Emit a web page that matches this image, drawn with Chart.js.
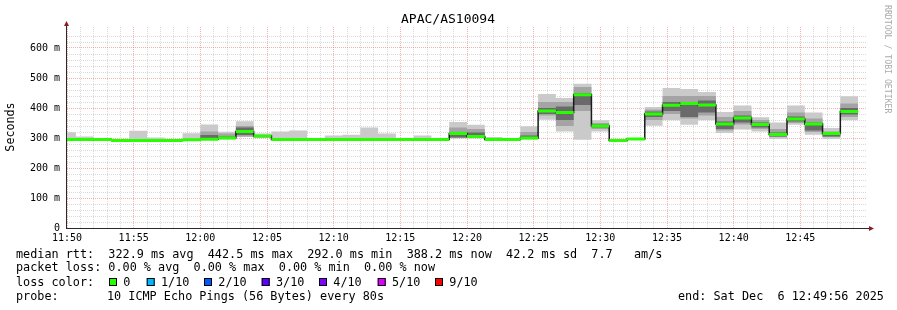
<!DOCTYPE html>
<html>
<head>
<meta charset="utf-8">
<title>APAC/AS10094</title>
<script src="https://cdn.jsdelivr.net/npm/chart.js@4.4.1/dist/chart.umd.min.js"></script>
<style>
  html, body { margin: 0; padding: 0; background: #fff; }
  #wrap { width: 897px; height: 310px; position: relative; }
</style>
</head>
<body>
<div id="wrap"><canvas id="smoke" width="897" height="310"></canvas></div>
<script>
/* SmokePing style latency graph: smoke bands + median, one round of 10 pings every 80s */

// start of each probe round, last entry is where the last round ends
const stepTimes = [
  '11:50:00','11:50:40','11:52:00','11:53:20','11:54:40','11:56:00','11:57:20','11:58:40','12:00:00','12:01:20',
  '12:02:40','12:04:00','12:05:20','12:06:40','12:08:00','12:09:20','12:10:40','12:12:00','12:13:20','12:14:40',
  '12:16:00','12:17:20','12:18:40','12:20:00','12:21:20','12:22:40','12:24:00','12:25:20','12:26:40','12:28:00',
  '12:29:20','12:30:40','12:32:00','12:33:20','12:34:40','12:36:00','12:37:20','12:38:40','12:40:00','12:41:20',
  '12:42:40','12:44:00','12:45:20','12:46:40','12:48:00','12:49:20'
];

// median rtt per round (ms)
const median = [
  295,295,295,292,292,292,292,294,296,300,
  322,307,295,295,295,295,295,295,295,295,
  295,295,315,305,295,295,300,390,385,444,
  340,292,297,380,409,415,410,347,367,345,
  312,363,347,315,388
];
// outer smoke (fastest / slowest ping)
const smokeLo = [
  293,293,293,291,291,291,291,292,294,296,
  303,300,293,293,293,293,293,293,293,293,
  293,293,298,298,293,293,295,361,322,294,
  322,291,295,341,359,344,359,317,328,322,
  297,344,311,297,359
];
const smokeHi = [
  319,305,296,293,324,302,293,316,345,321,
  356,315,322,325,298,308,311,335,315,297,
  308,298,353,344,303,297,339,447,433,481,
  359,293,300,403,467,463,453,387,408,369,
  352,408,385,333,439
];
// middle smoke
const midLo = [
  294,294,294,291,291,291,291,293,298,300,
  305,302,294,294,294,294,294,294,294,294,
  294,294,300,300,294,294,297,375,340,390,
  330,291,296,360,380,365,375,325,345,330,
  303,350,320,303,370
];
const midHi = [
  300,297,296,293,296,294,293,297,322,315,
  340,310,298,298,296,296,296,298,297,296,
  296,296,335,330,297,296,320,420,420,470,
  350,293,298,395,440,440,440,370,390,360,
  330,385,365,322,415
];
// dense core around the median
const coreLo = [
  294,294,294,291,291,291,291,293,298,298,
  310,304,294,294,294,294,294,294,294,294,
  294,294,302,300,294,294,297,380,360,410,
  335,291,296,370,390,370,385,330,352,335,
  305,355,325,305,378
];
const coreHi = [
  297,296,296,293,293,293,293,295,310,305,
  335,308,296,296,296,296,296,296,296,296,
  296,296,320,318,296,296,308,400,405,450,
  345,293,298,388,420,410,425,355,375,352,
  318,372,352,318,400
];

const xLabels = ['11:50','11:55','12:00','12:05','12:10','12:15','12:20','12:25','12:30','12:35','12:40','12:45'];
const yLabels = ['0','100 m','200 m','300 m','400 m','500 m','600 m'];

const lossLabels = ['0','1/10','2/10','3/10','4/10','5/10','9/10'];
const lossColors = ['#26ff00','#00b8ff','#0059ff','#5e00ff','#7e00ff','#dd00ff','#ff0000'];

const MONO = '"DejaVu Sans Mono", monospace';
const MINOR = 'rgba(140,140,140,0.32)';
const MAJOR = 'rgba(230,80,80,0.45)';

function secs(hms){
  const [h,m,s] = hms.split(':').map(Number);
  return h*3600 + m*60 + s - (11*3600 + 50*60);
}
const tx = stepTimes.map(secs);

// points at the start of each round + closing point at the end of the last one
function steps(values){
  const pts = values.map((v,i)=>({x: tx[i], y: v}));
  pts.push({x: tx[values.length], y: values[values.length-1]});
  return pts;
}
// horizontal pieces only (for the median bar)
function flats(values){
  const pts = [];
  values.forEach((v,i)=>{ pts.push({x: tx[i], y: v}, {x: tx[i+1], y: v}, {x: tx[i+1], y: null}); });
  return pts;
}
function band(data, fill, color, order){
  return { data: steps(data), stepped: true, fill, backgroundColor: color, borderWidth: 0, pointRadius: 0, order };
}

const decor = {
  id: 'decor',
  afterDraw(chart){
    const c = chart.ctx, a = chart.chartArea;
    c.save();
    // axes + arrows
    c.strokeStyle = '#2a2a2a'; c.lineWidth = 1;
    c.beginPath();
    c.moveTo(a.left - 0.5, a.bottom + 1); c.lineTo(a.left - 0.5, a.top - 2);
    c.moveTo(a.left - 1, a.bottom + 0.5); c.lineTo(a.right + 2, a.bottom + 0.5);
    c.stroke();
    c.fillStyle = '#8b1c1c';
    c.beginPath(); c.moveTo(a.left - 0.5, a.top - 6); c.lineTo(a.left - 3, a.top - 1); c.lineTo(a.left + 2, a.top - 1); c.closePath(); c.fill();
    c.beginPath(); c.moveTo(a.right + 7, a.bottom + 0.5); c.lineTo(a.right + 2, a.bottom - 2); c.lineTo(a.right + 2, a.bottom + 3); c.closePath(); c.fill();

    c.fillStyle = '#000'; c.textBaseline = 'middle';
    // title
    c.font = '13px ' + MONO; c.textAlign = 'center';
    c.fillText('APAC/AS10094', 448, 19.5);
    // y title
    c.save(); c.translate(11, 127); c.rotate(-Math.PI/2);
    c.font = '11.7px ' + MONO; c.fillText('Seconds', 0, 0);
    c.restore();
    // rrdtool watermark
    c.save(); c.translate(887, 5); c.rotate(Math.PI/2);
    c.font = '8.2px ' + MONO; c.fillStyle = '#aaaaaa'; c.textAlign = 'left';
    c.fillText('RRDTOOL / TOBI OETIKER', 0, 0);
    c.restore();

    // legend
    c.font = '11.8px ' + MONO; c.textAlign = 'left';
    c.fillText('median rtt:  322.9 ms avg  442.5 ms max  292.0 ms min  388.2 ms now  42.2 ms sd  7.7   am/s', 16, 254.7);
    c.fillText('packet loss: 0.00 % avg  0.00 % max  0.00 % min  0.00 % now', 16, 268.3);
    c.fillText('loss color:', 16, 282.7);
    const boxX = [109, 146.7, 204, 261.7, 319, 377.7, 435];
    lossLabels.forEach((lab,i)=>{
      c.fillStyle = lossColors[i];
      c.fillRect(boxX[i], 278, 8, 8);
      c.strokeStyle = '#000'; c.lineWidth = 1;
      c.strokeRect(boxX[i] + 0.5, 278.5, 7, 7);
      c.fillStyle = '#000';
      c.fillText(lab, boxX[i] + 14.3, 282.7);
    });
    c.fillText('probe:', 16, 296.7);
    c.fillText('10 ICMP Echo Pings (56 Bytes) every 80s', 107, 296.7);
    c.fillText('end: Sat Dec  6 12:49:56 2025', 678, 296.7);
    c.restore();
  }
};

new Chart(document.getElementById('smoke'), {
  type: 'line',
  data: {
    datasets: [
      band(smokeLo, false, 'transparent', 10),
      band(smokeHi, '-1', '#cacaca', 10),
      band(midLo, false, 'transparent', 9),
      band(midHi, '-1', '#a4a4a4', 9),
      band(coreLo, false, 'transparent', 8),
      band(coreHi, '-1', '#6a6a6a', 8),
      { data: steps(median), stepped: true, fill: false, borderColor: '#1a1a1a', borderWidth: 1.5, pointRadius: 0, order: 2 },
      { data: flats(median), fill: false, spanGaps: false, borderColor: '#26ff00', borderWidth: 3, borderCapStyle: 'butt', pointRadius: 0, order: 1 }
    ]
  },
  options: {
    responsive: false,
    animation: false,
    devicePixelRatio: 1,
    layout: { padding: { left: 0, right: 30, top: 27, bottom: 62 } },
    plugins: { legend: { display: false }, tooltip: { enabled: false } },
    scales: {
      x: {
        type: 'linear', min: 0, max: 3600,
        afterBuildTicks: s => { s.ticks = s.ticks.filter(t => t.value < 3600 && t.value % 60 === 0); },
        afterFit: s => { s.height = 20; },
        ticks: {
          stepSize: 60, autoSkip: false, maxRotation: 0, padding: 4, color: '#000',
          font: { family: MONO, size: 10 },
          callback: v => v % 300 === 0 ? xLabels[v/300] : ''
        },
        grid: { color: ctx => ctx.tick && ctx.tick.value % 300 === 0 ? MAJOR : MINOR, drawTicks: false, tickLength: 0 },
        border: { display: false, dash: [1,1] }
      },
      y: {
        min: 0, max: 670,
        afterBuildTicks: s => { s.ticks = s.ticks.filter(t => t.value < 670 && t.value % 20 === 0); },
        afterFit: s => { s.width = 67; },
        ticks: {
          stepSize: 20, autoSkip: false, padding: 7, color: '#000',
          font: { family: MONO, size: 10 },
          callback: v => v % 100 === 0 ? yLabels[v/100] : ''
        },
        grid: { color: ctx => ctx.tick && ctx.tick.value % 100 === 0 ? MAJOR : MINOR, drawTicks: false, tickLength: 0 },
        border: { display: false, dash: [1,1] }
      }
    }
  },
  plugins: [decor]
});
</script>
</body>
</html>
